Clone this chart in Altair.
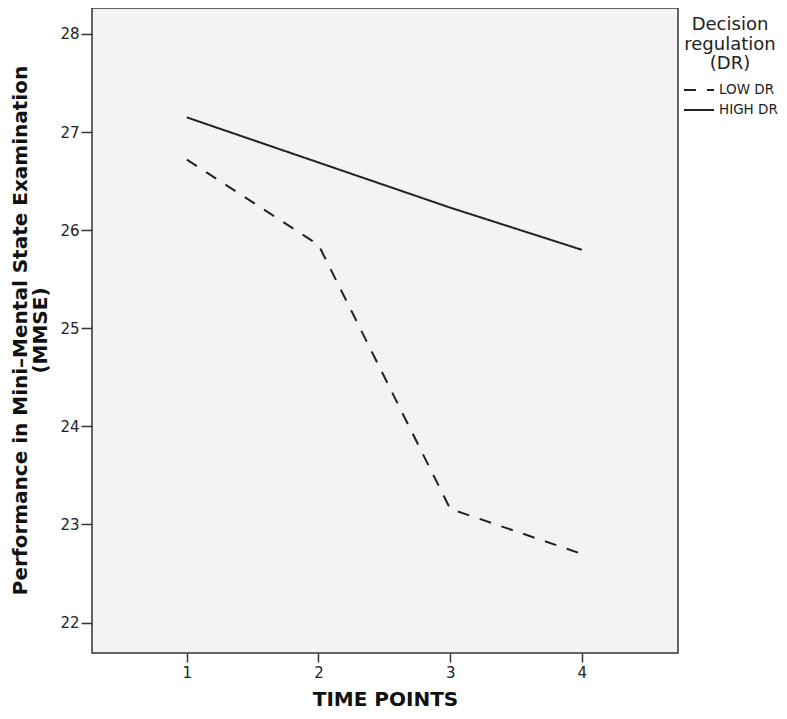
import altair as alt
import pandas as pd

time_points = [1, 2, 3, 4]
low_dr = [26.72, 25.85, 23.16, 22.70]
high_dr = [27.15, 26.69, 26.23, 25.80]
groups = ["LOW DR", "HIGH DR"]
y_ticks = [22, 23, 24, 25, 26, 27, 28]
x_ticks = [1, 2, 3, 4]

rows = []
for t, v in zip(time_points, low_dr):
    rows.append({"time": t, "mmse": v, "group": "LOW DR"})
for t, v in zip(time_points, high_dr):
    rows.append({"time": t, "mmse": v, "group": "HIGH DR"})
df = pd.DataFrame(rows)

FONT = "DejaVu Sans"

chart = alt.Chart(df).mark_line(color="#222222", strokeWidth=2).encode(
    x=alt.X("time:Q",
            scale=alt.Scale(domain=[0.28, 4.73], nice=False, zero=False),
            axis=alt.Axis(values=x_ticks, format="d", title="TIME POINTS",
                          grid=False, domain=False, tickSize=9, tickWidth=1.5,
                          tickColor="#333333", labelPadding=3, labelFontSize=15,
                          labelFont=FONT, labelColor="#222222",
                          titleFont=FONT, titleFontSize=20, titleFontWeight="bold",
                          titleColor="#111111", titleY=52, titleBaseline="alphabetic")),
    y=alt.Y("mmse:Q",
            scale=alt.Scale(domain=[21.69, 28.265], nice=False, zero=False),
            axis=alt.Axis(values=y_ticks, format="d",
                          title=["Performance in Mini\u2013Mental State Examination", "(MMSE)"],
                          grid=False, domain=False, tickSize=11, tickWidth=1.5,
                          tickColor="#333333", labelPadding=2, labelFontSize=15,
                          labelFont=FONT, labelColor="#222222",
                          titleFont=FONT, titleFontSize=20, titleFontWeight="bold",
                          titleColor="#111111", titleLineHeight=20,
                          titleX=-82, titleY=322, titleBaseline="top", titleAngle=-90)),
    strokeDash=alt.StrokeDash("group:N",
                              scale=alt.Scale(domain=groups, range=[[12, 11], [1, 0]]),
                              legend=alt.Legend(title=["Decision", "regulation", "(DR)"],
                                                orient="none", legendX=591, legendY=8,
                                                titleFont=FONT, titleFontSize=18,
                                                titleFontWeight="normal", titleColor="#222222",
                                                titleLineHeight=19.5, titleAlign="center",
                                                titleAnchor="middle", titlePadding=7,
                                                labelFont=FONT, labelFontSize=13.5,
                                                labelColor="#222222", labelOffset=4,
                                                symbolType="stroke", symbolSize=900,
                                                symbolStrokeWidth=2, symbolStrokeColor="#222222",
                                                clipHeight=20, rowPadding=0)),
).properties(
    width=586, height=645,
    autosize=alt.AutoSizeParams(type="none"),
    padding={"left": 84, "top": 0, "right": 101, "bottom": 58},
    background="white",
).configure_view(
    fill="#f3f3f3", stroke="#333333", strokeWidth=1.5
)

chart.save("out.html", embed_options={"renderer": "svg", "actions": False})
